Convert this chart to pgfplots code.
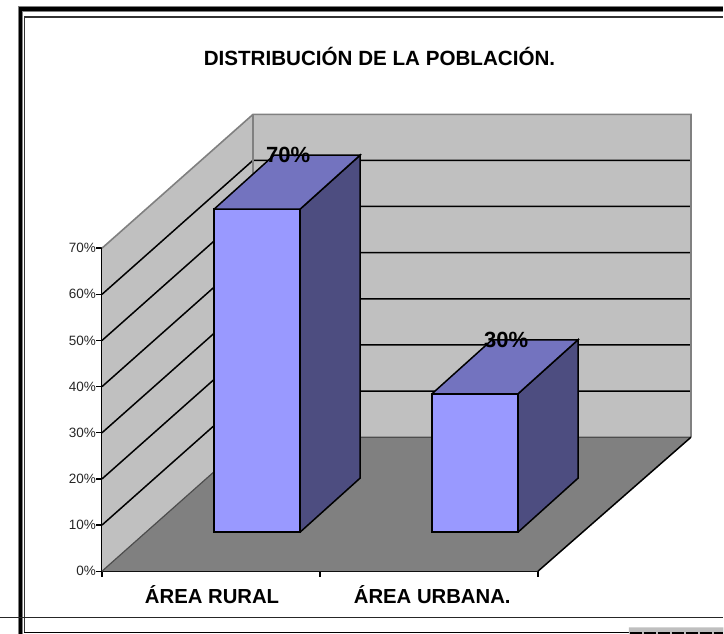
\documentclass[border=0pt]{standalone}
\usepackage{pgfplots}
\pgfplotsset{compat=1.18}
\usepackage{fontspec}
\setmainfont{Liberation Sans}
\definecolor{wall}{HTML}{C0C0C0}
\definecolor{floorc}{HTML}{808080}
\definecolor{edge}{HTML}{808080}
\definecolor{barfront}{HTML}{9999FF}
\definecolor{bartop}{HTML}{7373BF}
\definecolor{barside}{HTML}{4D4D80}
\begin{document}
\begin{tikzpicture}[x=1pt,y=1pt]
\useasboundingbox (0,0) rectangle (724,633);
\begin{axis}[
  at={(102pt,61.8pt)}, anchor=south west, scale only axis,
  width=436pt, height=323pt,
  xmin=0, xmax=2, ymin=0, ymax=70,
  clip=false,
  axis x line=bottom, axis y line=left,
  axis line style={-, line width=1.5pt, black},
  xtick={0,1,2}, xticklabels={},
  ytick={0,10,20,30,40,50,60,70},
  yticklabels={0\%,10\%,20\%,30\%,40\%,50\%,60\%,70\%},
  /pgf/number format/assume math mode=true,
  yticklabel style={font=\fontsize{13.5}{13.5}\selectfont, color=black!85, inner sep=0pt, xshift=-0.5pt},
  tick style={line width=1.4pt, black},
  tick align=outside,
  major tick length=5.5pt,
  extra x ticks={0.505,1.515},
  extra x tick labels={ÁREA RURAL,ÁREA URBANA.},
  extra x tick style={major tick length=0pt, grid=none,
    ticklabel style={font=\bfseries\fontsize{20.3}{20.3}\selectfont, inner sep=0pt, yshift=-14pt}},
]
% ---- walls and floor (depth offset 0.6927 x-units, 29.04 %)
\addplot[fill=wall, draw=none] coordinates {(0,0) (0,70) (0.6927,99.0) (0.6927,29.04) (0,0)};
\addplot[fill=wall, draw=none] coordinates {(0.6927,29.04) (0.6927,99.0) (2.7018,99.0) (2.7018,29.04) (0.6927,29.04)};
\addplot[fill=floorc, draw=none] coordinates {(0,0) (0.6927,29.04) (2.7018,29.04) (2,0) (0,0)};
% ---- grid on the walls
\addplot[black, line width=1.5pt] coordinates {(0,10) (0.6927,39.04) (2.7018,39.04)};
\addplot[black, line width=1.5pt] coordinates {(0,20) (0.6927,49.04) (2.7018,49.04)};
\addplot[black, line width=1.5pt] coordinates {(0,30) (0.6927,59.04) (2.7018,59.04)};
\addplot[black, line width=1.5pt] coordinates {(0,40) (0.6927,69.04) (2.7018,69.04)};
\addplot[black, line width=1.5pt] coordinates {(0,50) (0.6927,79.04) (2.7018,79.04)};
\addplot[black, line width=1.5pt] coordinates {(0,60) (0.6927,89.04) (2.7018,89.04)};
% ---- wall edges
\addplot[edge, line width=1.6pt] coordinates {(0,70) (0.6927,99.0) (2.7018,99.0) (2.7018,29.04)};
\addplot[edge, line width=1.3pt] coordinates {(0.6927,99.0) (0.6927,29.04)};
\addplot[edge!60!black, line width=1.2pt] coordinates {(0,0) (0.6927,29.04) (2.7018,29.04)};
\addplot[black, line width=1.5pt] coordinates {(2,0) (2.7018,29.04)};
% ---- bars: front faces carry the values, raised onto the floor
\addplot[ybar, bar width=86pt, fill=barfront, draw=black, line width=1.5pt, yshift=39pt]
  coordinates {(0.711,70) (1.711,30)};
% side faces
\addplot[fill=barside, draw=black, line width=1.5pt] coordinates {(0.9083,8.45) (1.1835,20.15) (1.1835,90.15) (0.9083,78.45) (0.9083,8.45)};
\addplot[fill=barside, draw=black, line width=1.5pt] coordinates {(1.9083,8.45) (2.1835,20.15) (2.1835,50.15) (1.9083,38.45) (1.9083,8.45)};
% top faces
\addplot[fill=bartop, draw=black, line width=1.5pt] coordinates {(0.5138,78.45) (0.9083,78.45) (1.1835,90.15) (0.7890,90.15) (0.5138,78.45)};
\addplot[fill=bartop, draw=black, line width=1.5pt] coordinates {(1.5138,38.45) (1.9083,38.45) (2.1835,50.15) (1.7890,50.15) (1.5138,38.45)};
% data labels
\node[font=\bfseries\fontsize{22}{22}\selectfont, inner sep=0pt] at (axis cs:0.8535,90.3) {70\%};
\node[font=\bfseries\fontsize{22}{22}\selectfont, inner sep=0pt] at (axis cs:1.8535,50.2) {30\%};
% title
\node[font=\bfseries\fontsize{20.6}{20.6}\selectfont, inner sep=0pt] at (axis cs:1.2729,111.6) {DISTRIBUCIÓN DE LA POBLACIÓN.};
% ---- outer frame lines
\addplot[black!50, line width=5.4pt] coordinates {(-0.3734,-15) (-0.3734,121.8) (2.85,121.8)};
\addplot[black, line width=3.8pt] coordinates {(-0.3734,-15) (-0.3734,121.8) (2.85,121.8)};
\addplot[black!80, line width=1.5pt] coordinates {(-0.3565,-13.4) (-0.3565,120.1) (2.85,120.1)};
\addplot[black!85, line width=1.2pt] coordinates {(-0.47,-10.1) (2.85,-10.1)};
\addplot[black, line width=1.2pt] coordinates {(-0.3565,-13.2) (2.417,-13.2)};
% ---- remnant strip at the lower right
\addplot[fill=black!25, draw=none] coordinates {(2.417,-12.2) (2.85,-12.2) (2.85,-14) (2.417,-14) (2.417,-12.2)};
\addplot[black, line width=2pt, dash pattern=on 12pt off 2pt] coordinates {(2.42,-13.3) (2.85,-13.3)};
\end{axis}
\end{tikzpicture}
\end{document}
